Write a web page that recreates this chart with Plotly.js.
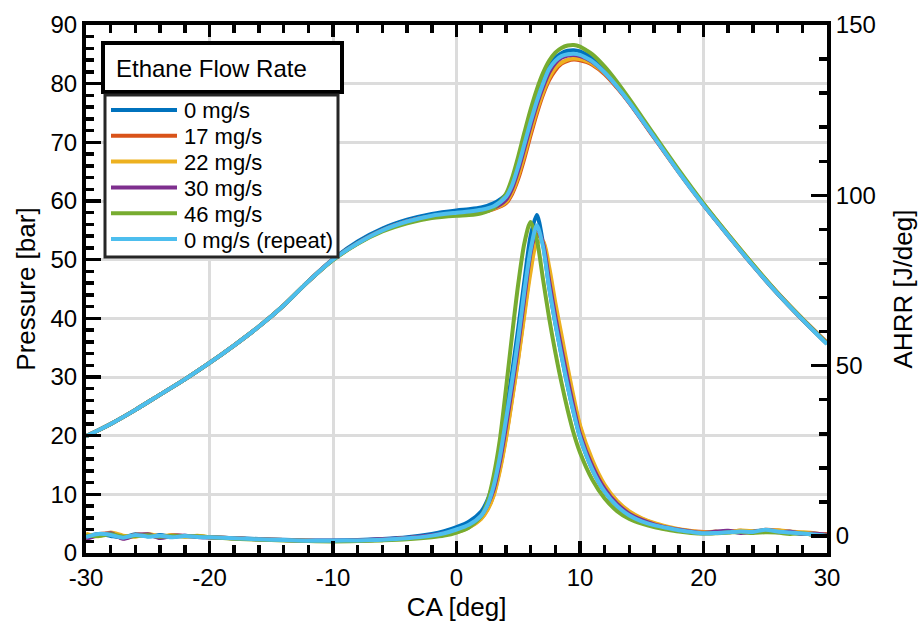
<!DOCTYPE html>
<html>
<head>
<meta charset="utf-8">
<script src="https://cdn.plot.ly/plotly-3.0.1.min.js"></script>
<style>html,body{margin:0;padding:0;background:#fff;}#chart{width:922px;height:631px;}</style>
</head>
<body>
<div id="chart"></div>
<script>
// ---------- DATA ----------
const seriesNames = ["0 mg/s", "17 mg/s", "22 mg/s", "30 mg/s", "46 mg/s", "0 mg/s (repeat)"];
const seriesColors = ["#0072BD", "#D95319", "#EDB120", "#7E2F8E", "#77AC30", "#4DBEEE"];
const legendTitle = "Ethane Flow Rate";

// Pressure [bar] vs CA [deg]
const caP = [-30,-28,-26,-24,-22,-20,-18,-16,-14,-12,-10,-8,-6,-4,-2,0,1,2,3,4,4.5,5,5.5,6,6.5,7,7.5,8,8.5,9,9.5,10,10.5,11,12,13,14,16,18,20,22,24,26,28,30];
const p0   = [19.9,22.0,24.4,27.0,29.6,32.4,35.4,38.6,42.2,46.3,50.1,53.1,55.3,56.8,57.8,58.4,58.6,58.9,59.6,61.1,63.1,66.3,70.1,74.0,77.5,80.5,82.8,84.4,85.2,85.6,85.7,85.5,85.0,84.3,82.3,79.8,77.0,71.0,65.0,59.4,54.1,49.0,44.2,39.8,35.7];
const p17  = [19.9,22.0,24.4,27.0,29.6,32.4,35.4,38.6,42.2,46.3,50.0,52.8,55.0,56.5,57.4,57.8,57.9,58.1,58.6,59.6,61.2,63.8,67.3,71.2,74.9,78.1,80.6,82.3,83.4,83.9,84.1,84.0,83.7,83.2,81.6,79.3,76.7,70.8,64.9,59.3,54.1,49.0,44.2,39.8,35.7];
const p22  = [19.9,22.0,24.4,27.0,29.6,32.4,35.4,38.6,42.2,46.3,50.0,52.8,55.0,56.5,57.4,57.8,57.9,58.1,58.7,59.8,61.5,64.3,67.9,71.8,75.4,78.5,81.0,82.7,83.6,84.1,84.3,84.2,83.9,83.4,81.8,79.5,76.9,71.0,65.1,59.5,54.3,49.2,44.4,40.0,35.9];
const p30  = [19.9,22.0,24.4,27.0,29.6,32.4,35.4,38.6,42.2,46.3,50.0,52.8,55.0,56.5,57.4,57.8,57.9,58.2,58.8,60.2,62.1,65.2,69.0,72.8,76.4,79.4,81.9,83.5,84.4,84.8,84.9,84.7,84.3,83.7,81.9,79.5,76.8,70.9,65.0,59.4,54.2,49.1,44.3,39.9,35.8];
const p46  = [19.9,22.0,24.4,27.0,29.6,32.4,35.4,38.6,42.2,46.3,49.9,52.7,54.8,56.2,57.1,57.5,57.6,57.9,58.8,61.2,63.9,67.6,71.7,75.6,79.0,81.8,83.9,85.3,86.1,86.5,86.6,86.3,85.7,85.0,82.9,80.3,77.4,71.3,65.3,59.6,54.3,49.2,44.3,39.9,35.7];
const p0r  = [19.9,22.0,24.4,27.0,29.6,32.4,35.4,38.6,42.2,46.3,50.0,52.8,55.0,56.5,57.5,58.0,58.2,58.5,59.1,60.7,62.7,65.9,69.7,73.5,77.0,80.0,82.5,83.9,84.7,85.0,85.1,84.9,84.4,83.8,81.9,79.5,76.8,70.9,64.9,59.3,54.1,49.0,44.2,39.8,35.6];

// AHRR [J/deg] vs CA [deg]
const caH = [-30,-29,-28,-27,-26,-25,-24,-23,-22,-21,-20,-18,-16,-14,-12,-10,-8,-6,-4,-2,-1,0,1,2,2.5,3,3.5,4,4.5,5,5.5,6,6.5,7,7.5,8,8.5,9,9.5,10,11,12,13,14,15,16,17,18,19,20,21,22,23,24,25,26,27,28,29,30];
const h0   = [-0.2,0.6,0.0,-0.4,0.5,-0.1,0.3,-0.3,0.1,-0.2,-0.4,-0.6,-0.9,-1.1,-1.3,-1.3,-1.2,-0.9,-0.4,0.6,1.4,2.6,4.2,7.2,10.5,16,25,36,48,61,75,88,94.2,86,73,62.5,53,44,36,29,19.5,13.0,8.8,6.0,4.3,3.1,2.3,1.6,1.1,0.8,0.9,1.2,1.1,1.4,1.6,1.2,1.0,0.6,0.5,0.1];
const h17  = [-0.9,0.5,0.6,-0.7,0.4,0.3,-0.4,0.2,-0.1,0.0,-0.4,-0.7,-1.0,-1.2,-1.4,-1.5,-1.4,-1.1,-0.7,0.0,0.5,1.2,2.6,5.2,7.8,12,19.5,29,40.5,52.5,66,79,88.5,86.5,77,66.5,57,48,39.5,32,21.5,14.5,9.8,6.9,5.0,3.6,2.6,1.9,1.4,1.2,1.0,1.3,1.5,1.2,1.8,1.6,1.1,0.9,0.4,0.6];
const h22  = [0.7,-0.1,1.0,0.1,-0.2,0.6,-0.1,0.3,-0.2,0.1,-0.3,-0.7,-1.0,-1.2,-1.4,-1.5,-1.4,-1.1,-0.7,0.0,0.5,1.1,2.5,5.0,7.6,11.8,19,28.5,40,52,65,77.5,86,86.5,79,68.5,59,49.5,40.5,32.5,22.3,15.0,10.3,7.2,5.2,3.8,2.8,2.0,1.5,1.0,1.3,1.0,1.6,1.4,1.2,1.7,1.3,1.1,0.8,0.2];
const h30  = [-0.8,0.2,0.8,-0.8,0.2,0.5,-0.6,0.1,0.1,-0.3,-0.4,-0.7,-1.0,-1.2,-1.4,-1.4,-1.3,-1.0,-0.6,0.2,0.8,1.5,3.0,6.0,9,13.5,21.5,32,43.5,56,70,83,90.5,86,75,64.5,55,46,37.5,30,20.5,13.8,9.4,6.5,4.7,3.4,2.5,1.8,1.3,0.9,1.3,1.5,0.9,1.2,1.5,1.1,1.3,0.6,0.7,0.3];
const h46  = [0.1,0.0,0.5,-0.2,0.0,0.2,-0.2,0.0,-0.1,-0.1,-0.4,-0.8,-1.1,-1.3,-1.5,-1.6,-1.5,-1.3,-1.0,-0.4,0.1,1.0,2.5,5.8,10,17.5,28,43,59,74,86,92.2,87,75.5,64,54,45,37,30,24.5,16.5,11.0,7.3,5.0,3.6,2.6,1.9,1.3,0.9,0.7,0.8,1.0,1.2,0.9,1.1,1.0,0.6,0.8,0.3,0.1];
const h0r  = [-0.3,0.6,0.3,-0.5,0.3,-0.2,0.1,-0.4,0.0,-0.3,-0.4,-0.7,-1.0,-1.2,-1.4,-1.4,-1.3,-1.1,-0.7,0.1,0.8,1.9,3.3,6.0,9.0,14.5,23,34,45.5,58,72,84,91.2,85,73,62.5,53,44,36,29,19.5,13.0,8.8,6.0,4.3,3.2,2.4,1.7,1.2,0.8,0.9,1.1,1.3,1.2,1.8,1.3,1.0,0.7,0.4,0.0];

const pressureSets = [p0, p17, p22, p30, p46, p0r];
const ahrrSets = [h0, h17, h22, h30, h46, h0r];

const xTickVals = [-30,-20,-10,0,10,20,30];
const xTickText = ["-30","-20","-10","0","10","20","30"];
const y2TickVals = [0,50,100,150];
const y2TickText = ["0","50","100","150"];

// ---------- TRACES ----------
const traces = [];
for (let i = 0; i < seriesNames.length; i++) {
  traces.push({
    x: caP, y: pressureSets[i], type: 'scatter', mode: 'lines',
    name: seriesNames[i], showlegend: false, yaxis: 'y',
    line: {color: seriesColors[i], width: 4, shape: 'spline', smoothing: 0.8},
    hoverinfo: 'skip'
  });
}
for (let i = 0; i < seriesNames.length; i++) {
  traces.push({
    x: caH, y: ahrrSets[i], type: 'scatter', mode: 'lines',
    name: seriesNames[i], showlegend: false, yaxis: 'y2',
    line: {color: seriesColors[i], width: 4, shape: 'spline', smoothing: 0.8},
    hoverinfo: 'skip'
  });
}

const FONT = 'Liberation Sans, Arial, Helvetica, sans-serif';

// ---------- LEGEND (drawn with shapes + annotations, MATLAB style) ----------
const W = 922, H = 631, ML = 86, MR = 95, MT = 25, MB = 78;
const PW = W - ML - MR, PH = H - MT - MB;
const px = v => (v - ML) / PW;           // pixel x -> paper
const py = v => (H - MB - v) / PH;       // pixel y -> paper

const shapes = [];
const annotations = [];
// title box
shapes.push({type: 'rect', xref: 'paper', yref: 'paper', x0: px(103), x1: px(342), y0: py(92), y1: py(43),
  line: {color: '#000', width: 4}, fillcolor: '#ffffff', layer: 'above'});
annotations.push({xref: 'paper', yref: 'paper', x: px(114), y: py(68), xanchor: 'left', yanchor: 'middle',
  text: legendTitle, showarrow: false, font: {size: 24, family: FONT, color: '#000'}});
// items box
shapes.push({type: 'rect', xref: 'paper', yref: 'paper', x0: px(105), x1: px(338), y0: py(257), y1: py(95),
  line: {color: '#262626', width: 3}, fillcolor: '#ffffff', layer: 'above'});
for (let i = 0; i < seriesNames.length; i++) {
  const yy = 110 + i * 25.8;
  shapes.push({type: 'line', xref: 'paper', yref: 'paper', x0: px(111), x1: px(177), y0: py(yy), y1: py(yy),
    line: {color: seriesColors[i], width: 4}, layer: 'above'});
  annotations.push({xref: 'paper', yref: 'paper', x: px(182), y: py(yy + 1), xanchor: 'left', yanchor: 'middle',
    text: seriesNames[i], showarrow: false, font: {size: 22, family: FONT, color: '#000'}});
}

const layout = {
  width: W, height: H,
  margin: {l: ML, r: MR, t: MT, b: MB},
  paper_bgcolor: '#ffffff', plot_bgcolor: '#ffffff',
  font: {family: FONT, color: '#000000', size: 24},
  showlegend: false,
  xaxis: {
    range: [-30, 30], tickmode: 'array', tickvals: xTickVals, ticktext: xTickText,
    ticks: 'inside', ticklen: 12, tickwidth: 3.5, tickcolor: '#000',
    showline: true, linewidth: 4, linecolor: '#000', mirror: 'ticks',
    showgrid: true, gridcolor: '#dcdcdc', gridwidth: 3, zeroline: false,
    minor: {tickmode: 'linear', tick0: -30, dtick: 2, ticks: 'inside', ticklen: 8, tickwidth: 3.5, tickcolor: '#000', showgrid: false},
    tickfont: {size: 24, family: FONT, color: '#000'},
    title: {text: 'CA [deg]', font: {size: 26, family: FONT, color: '#000'}, standoff: 9}
  },
  yaxis: {
    range: [0, 90], tickmode: 'linear', tick0: 0, dtick: 10,
    ticks: 'inside', ticklen: 15, tickwidth: 3.5, tickcolor: '#000',
    showline: true, linewidth: 4, linecolor: '#000', mirror: false,
    showgrid: true, gridcolor: '#dcdcdc', gridwidth: 3, zeroline: false,
    minor: {tickmode: 'linear', tick0: 0, dtick: 2, ticks: 'inside', ticklen: 8, tickwidth: 3.5, tickcolor: '#000', showgrid: false},
    tickfont: {size: 24, family: FONT, color: '#000'},
    title: {text: 'Pressure [bar]', font: {size: 26, family: FONT, color: '#000'}, standoff: 8}
  },
  yaxis2: {
    range: [-5, 150], overlaying: 'y', side: 'right', anchor: 'x',
    tickmode: 'array', tickvals: y2TickVals, ticktext: y2TickText,
    ticks: 'inside', ticklen: 16, tickwidth: 3.5, tickcolor: '#000',
    showline: true, linewidth: 4, linecolor: '#000',
    showgrid: false, zeroline: false,
    minor: {tickmode: 'linear', tick0: 0, dtick: 10, ticks: 'inside', ticklen: 8, tickwidth: 3.5, tickcolor: '#000', showgrid: false},
    tickfont: {size: 24, family: FONT, color: '#000'},
    title: {text: 'AHRR [J/deg]', font: {size: 26, family: FONT, color: '#000'}, standoff: 20}
  },
  shapes: shapes,
  annotations: annotations
};

Plotly.newPlot('chart', traces, layout, {displayModeBar: false, staticPlot: true});
</script>
</body>
</html>
